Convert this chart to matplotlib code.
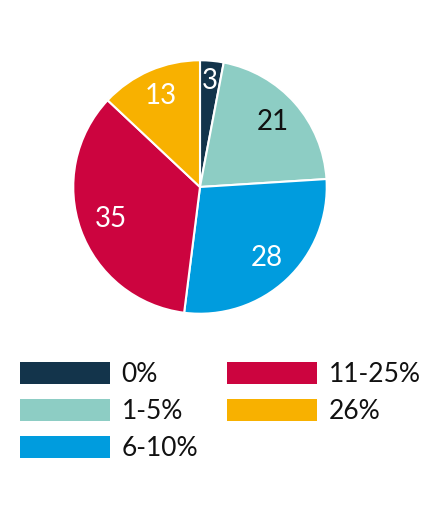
import numpy as np
from matplotlib import pyplot as plt
from matplotlib.patches import Patch

categories = ['0%', '1-5%', '6-10%', '11-25%', '26%']
values = [3, 21, 28, 35, 13]
colors = ['#13344b', '#8dcdc4', '#009cde', '#cc043f', '#f8b100']
text_colors = ['white', '#111111', 'white', 'white', 'white']
label_dist = [0.84, 0.77, 0.77, 0.75, 0.78]

plt.rcParams['font.family'] = ['Lato', 'DejaVu Sans']

fig = plt.figure(figsize=(4.36, 5.19), dpi=100)
ax = fig.add_axes([72/436, 1-315/519, 256/436, 256/519])

wedges, _ = ax.pie(values, colors=colors, startangle=90, counterclock=False,
                   wedgeprops=dict(edgecolor='white', linewidth=1.5))
ax.set_xlim(-1.01, 1.01)
ax.set_ylim(-1.01, 1.01)
ax.set_aspect('equal')

for w, v, tc, d in zip(wedges, values, text_colors, label_dist):
    ang = np.deg2rad((w.theta1 + w.theta2) / 2)
    ax.text(d*np.cos(ang), d*np.sin(ang), str(v), color=tc, fontsize=20,
            ha='center', va='center')

handles = [Patch(facecolor=c, label=l) for c, l in zip(colors, categories)]
leg = fig.legend(handles=handles, ncol=2, loc='upper left', bbox_to_anchor=(20/436, 1-362/519),
                 frameon=False, prop=dict(size=19), handlelength=3.4, handleheight=0.9,
                 labelspacing=0.45, columnspacing=1.1, handletextpad=0.45,
                 borderpad=0, borderaxespad=0)
for t in leg.get_texts():
    t.set_color('#111111')

plt.savefig('out.png', dpi=100)
